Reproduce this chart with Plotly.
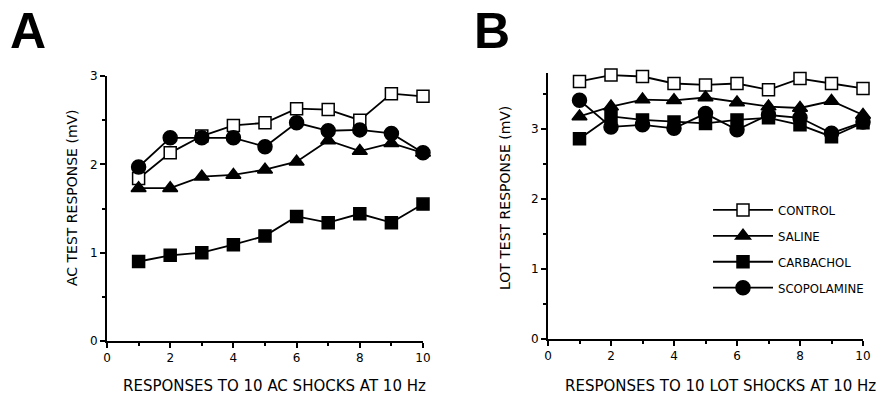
import plotly.graph_objects as go

W, H = 889, 394

shocks = [1, 2, 3, 4, 5, 6, 7, 8, 9, 10]
series_names = ["CONTROL", "SALINE", "CARBACHOL", "SCOPOLAMINE"]

# Panel A: AC test response (mV)
ac_control = [1.84, 2.13, 2.32, 2.44, 2.47, 2.63, 2.62, 2.50, 2.80, 2.77]
ac_saline = [1.73, 1.73, 1.86, 1.88, 1.94, 2.03, 2.27, 2.15, 2.24, 2.13]
ac_carbachol = [0.90, 0.97, 1.00, 1.09, 1.19, 1.41, 1.34, 1.44, 1.34, 1.55]
ac_scopolamine = [1.97, 2.30, 2.30, 2.30, 2.20, 2.47, 2.38, 2.39, 2.35, 2.13]

# Panel B: LOT test response (mV)
lot_control = [3.68, 3.77, 3.75, 3.65, 3.63, 3.65, 3.56, 3.72, 3.65, 3.58]
lot_saline = [3.18, 3.32, 3.42, 3.41, 3.45, 3.38, 3.32, 3.30, 3.40, 3.20]
lot_carbachol = [2.86, 3.18, 3.13, 3.10, 3.08, 3.13, 3.16, 3.06, 2.89, 3.09]
lot_scopolamine = [3.41, 3.03, 3.06, 3.01, 3.22, 2.99, 3.20, 3.16, 2.94, 3.10]

x_ticks = [0, 2, 4, 6, 8, 10]
y_ticks = [0, 1, 2, 3]

styles = {
    "CONTROL": dict(symbol="square", color="white", size=12),
    "SALINE": dict(symbol="triangle-up", color="black", size=13),
    "CARBACHOL": dict(symbol="square", color="black", size=12),
    "SCOPOLAMINE": dict(symbol="circle", color="black", size=14),
}

fig = go.Figure()

panel_a = [ac_control, ac_saline, ac_carbachol, ac_scopolamine]
panel_b = [lot_control, lot_saline, lot_carbachol, lot_scopolamine]

for name, vals in zip(series_names, panel_a):
    st = styles[name]
    fig.add_trace(go.Scatter(
        x=shocks, y=vals, mode="lines+markers", name=name,
        xaxis="x", yaxis="y", showlegend=False, cliponaxis=False,
        line=dict(color="black", width=1.8),
        marker=dict(symbol=st["symbol"], size=st["size"], color=st["color"],
                    line=dict(color="black", width=1.5)),
    ))

for name, vals in zip(series_names, panel_b):
    st = styles[name]
    fig.add_trace(go.Scatter(
        x=shocks, y=vals, mode="lines+markers", name=name,
        xaxis="x2", yaxis="y2", showlegend=True, legendgroup=name,
        cliponaxis=False,
        line=dict(color="black", width=1.8),
        marker=dict(symbol=st["symbol"], size=st["size"], color=st["color"],
                    line=dict(color="black", width=1.5)),
    ))

tick_font = dict(family="DejaVu Sans", size=12, color="black")

def xaxis_cfg(domain):
    return dict(
        domain=domain, range=[0, 10], tickvals=x_ticks,
        ticktext=[str(v) for v in x_ticks],
        showline=True, linecolor="black", linewidth=2,
        ticks="outside", ticklen=5, tickwidth=1.5, tickcolor="black",
        minor=dict(dtick=1, tick0=0, ticks="outside", ticklen=3,
                   tickwidth=1.5, tickcolor="black"),
        showgrid=False, zeroline=False, tickfont=tick_font, fixedrange=True,
        automargin=False,
    )

def yaxis_cfg(domain, top, anchor):
    return dict(
        domain=domain, range=[0, top], tickvals=y_ticks,
        ticktext=[str(v) for v in y_ticks], anchor=anchor,
        showline=True, linecolor="black", linewidth=2,
        ticks="outside", ticklen=5, tickwidth=1.5, tickcolor="black",
        minor=dict(dtick=0.5, tick0=0, ticks="outside", ticklen=3,
                   tickwidth=1.5, tickcolor="black"),
        showgrid=False, zeroline=False, tickfont=tick_font, fixedrange=True,
        automargin=False,
    )

xa = xaxis_cfg([107 / W, 423 / W])
xa["anchor"] = "y"
xb = xaxis_cfg([548 / W, 863 / W])
xb["anchor"] = "y2"
ya = yaxis_cfg([1 - 341 / H, 1 - 76 / H], 3, "x")
yb = yaxis_cfg([1 - 339 / H, 1 - 73 / H], 3.8, "x2")

title_font = dict(family="DejaVu Sans", size=15, color="black")
ytitle_font = dict(family="DejaVu Sans", size=14, color="black")
letter_font = dict(family="Liberation Sans, Arial", size=50, color="black")

annotations = [
    dict(text="<b>A</b>", x=8 / W, y=1 - 31 / H, xref="paper", yref="paper",
         xanchor="left", yanchor="middle", showarrow=False, font=letter_font),
    dict(text="<b>B</b>", x=472 / W, y=1 - 31 / H, xref="paper", yref="paper",
         xanchor="left", yanchor="middle", showarrow=False, font=letter_font),
    dict(text="AC TEST RESPONSE (mV)", x=72 / W, y=1 - 198 / H,
         xref="paper", yref="paper", textangle=-90, showarrow=False,
         xanchor="center", yanchor="middle", font=ytitle_font),
    dict(text="LOT TEST RESPONSE (mV)", x=505 / W, y=1 - 198 / H,
         xref="paper", yref="paper", textangle=-90, showarrow=False,
         xanchor="center", yanchor="middle", font=ytitle_font),
    dict(text="RESPONSES TO 10 AC SHOCKS AT 10 Hz", x=274 / W, y=1 - 386 / H,
         xref="paper", yref="paper", showarrow=False,
         xanchor="center", yanchor="middle", font=title_font),
    dict(text="RESPONSES TO 10 LOT SHOCKS AT 10 Hz", x=720 / W, y=1 - 386 / H,
         xref="paper", yref="paper", showarrow=False,
         xanchor="center", yanchor="middle", font=title_font),
]

fig.update_layout(
    width=W, height=H,
    margin=dict(l=0, r=0, t=0, b=0, autoexpand=False),
    paper_bgcolor="white", plot_bgcolor="white",
    xaxis=xa, yaxis=ya, xaxis2=xb, yaxis2=yb,
    annotations=annotations,
    showlegend=True,
    legend=dict(
        x=708 / W, y=1 - 195 / H, xanchor="left", yanchor="top",
        bgcolor="rgba(0,0,0,0)", borderwidth=0,
        itemwidth=60, traceorder="grouped", tracegroupgap=6,
        font=dict(family="Liberation Sans Narrow, Arial Narrow, DejaVu Sans Condensed, Arial",
                  size=13, color="black"),
        itemclick=False, itemdoubleclick=False,
    ),
)

fig.write_html(
    "out.html",
    config={"displayModeBar": False},
    post_script="document.body.style.margin='0';document.body.style.padding='0';",
)
